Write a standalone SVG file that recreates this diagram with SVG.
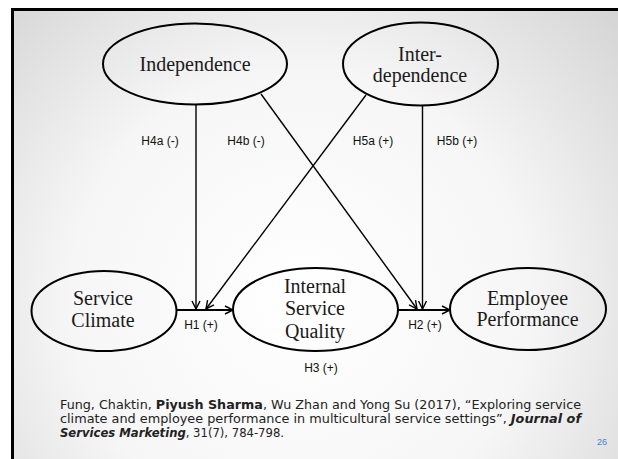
<svg xmlns="http://www.w3.org/2000/svg" width="618" height="459" viewBox="0 0 618 459">
<defs>
<radialGradient id="bg" cx="300" cy="300" r="420" gradientUnits="userSpaceOnUse">
<stop offset="0" stop-color="#ffffff"/>
<stop offset="0.55" stop-color="#f6f6f6"/>
<stop offset="1" stop-color="#d6d6d6"/>
</radialGradient>
<marker id="arr" markerWidth="10" markerHeight="10" refX="9" refY="5" orient="auto" markerUnits="userSpaceOnUse">
<path d="M1,1 L9,5 L1,9" fill="none" stroke="#000" stroke-width="1.4"/>
</marker>
</defs>
<style>
.node ellipse{fill:none;stroke:#000;stroke-width:2}
.serif{font-family:"Liberation Serif","Times New Roman",serif;font-size:20px;fill:#1a1a1a;text-anchor:middle}
.lbl{font-family:"Liberation Sans",Arial,sans-serif;font-size:12px;fill:#111;text-anchor:middle}
.conn line{stroke:#000;stroke-width:1.4;marker-end:url(#arr)}
.foot{font-family:"DejaVu Sans","Liberation Sans",sans-serif;font-size:12.5px;fill:#222}
</style>
<rect x="0" y="0" width="618" height="459" fill="#fff"/>
<rect x="12" y="9" width="606" height="450" fill="url(#bg)"/>
<path d="M12.5,459 V9.5 H618" fill="none" stroke="#000" stroke-width="3"/>

<g id="connectors" class="conn">
<line x1="196" y1="104" x2="196" y2="309"/>
<line x1="261" y1="94" x2="417" y2="309"/>
<line x1="366" y1="95" x2="206" y2="309"/>
<line x1="422.5" y1="106" x2="422.5" y2="309"/>
<line x1="177" y1="310" x2="233" y2="310" style="stroke-width:2"/>
<line x1="398" y1="310" x2="450" y2="310" style="stroke-width:2"/>
</g>

<g id="labels">
<text class="lbl" x="160" y="145">H4a (-)</text>
<text class="lbl" x="246" y="145">H4b (-)</text>
<text class="lbl" x="373" y="145">H5a (+)</text>
<text class="lbl" x="457" y="145">H5b (+)</text>
<text class="lbl" x="201" y="329">H1 (+)</text>
<text class="lbl" x="425" y="329">H2 (+)</text>
<text class="lbl" x="321" y="372">H3 (+)</text>
</g>

<g id="independence" class="node">
<ellipse cx="195" cy="64" rx="92" ry="40.5"/>
<text class="serif" x="195" y="71">Independence</text>
</g>
<g id="interdependence" class="node">
<ellipse cx="420.5" cy="64" rx="77.5" ry="41.5"/>
<text class="serif" x="420" y="61">Inter-</text>
<text class="serif" x="420" y="82">dependence</text>
</g>
<g id="service-climate" class="node">
<ellipse cx="104" cy="311" rx="72.5" ry="40"/>
<text class="serif" x="103" y="305">Service</text>
<text class="serif" x="103" y="327">Climate</text>
</g>
<g id="internal-service-quality" class="node">
<ellipse cx="315.5" cy="309.5" rx="82.5" ry="41.5"/>
<text class="serif" x="315" y="293">Internal</text>
<text class="serif" x="315" y="315">Service</text>
<text class="serif" x="315" y="338">Quality</text>
</g>
<g id="employee-performance" class="node">
<ellipse cx="528" cy="309" rx="78" ry="41"/>
<text class="serif" x="527.5" y="305">Employee</text>
<text class="serif" x="527.5" y="326">Performance</text>
</g>

<g id="citation">
<text class="foot" x="60" y="409" textLength="521" lengthAdjust="spacingAndGlyphs">Fung, Chaktin, <tspan font-weight="bold">Piyush Sharma</tspan>, Wu Zhan and Yong Su (2017), “Exploring service</text>
<text class="foot" x="60" y="423" textLength="521" lengthAdjust="spacingAndGlyphs">climate and employee performance in multicultural service settings”, <tspan font-weight="bold" font-style="italic">Journal of</tspan></text>
<text class="foot" x="60" y="437" textLength="224" lengthAdjust="spacingAndGlyphs"><tspan font-weight="bold" font-style="italic">Services Marketing</tspan>, 31(7), 784-798.</text>
<text x="602" y="445" font-family="Liberation Sans, Arial, sans-serif" font-size="9" fill="#3a86d4" text-anchor="middle">26</text>
</g>
</svg>
